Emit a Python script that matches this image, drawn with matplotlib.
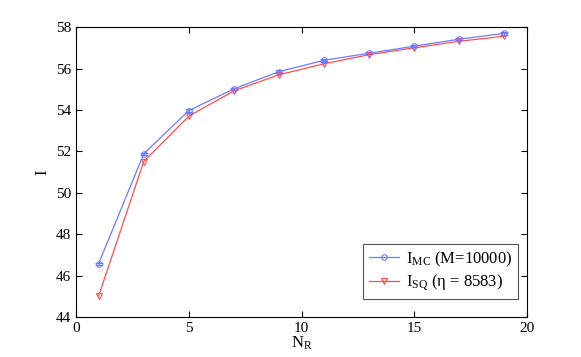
import numpy as np
import matplotlib
matplotlib.use('Agg')
import matplotlib.pyplot as plt
from matplotlib.lines import Line2D

plt.rcParams['font.family'] = ['Liberation Serif', 'DejaVu Serif']
plt.rcParams['mathtext.fontset'] = 'stix'

n_r = [1, 3, 5, 7, 9, 11, 13, 15, 17, 19]
i_mc = [46.58, 51.88, 53.97, 55.02, 55.85, 56.40, 56.74, 57.08, 57.42, 57.70]
i_mc_err = [0.05, 0.06, 0.06, 0.06, 0.06, 0.06, 0.06, 0.06, 0.06, 0.06]
i_sq = [45.02, 51.51, 53.70, 54.92, 55.70, 56.23, 56.67, 57.00, 57.32, 57.56]

blue = '#6a7dff'
red = '#ff4d4d'

fig = plt.figure(figsize=(5.81, 3.57), dpi=100)
ax = fig.add_axes([0.131, 0.112, 0.776, 0.812])

ax.errorbar(n_r, i_mc, yerr=i_mc_err, color=blue, lw=0.9, marker='o',
            ms=4, mfc='none', mew=0.8, capsize=3, elinewidth=0.8)
ax.plot(n_r, i_sq, color=red, lw=0.9, marker='v', ms=4.5, mfc='none', mew=0.8)

ax.set_xlim(0, 20)
ax.set_ylim(44, 58)
ax.set_xticks([0, 5, 10, 15, 20])
ax.set_yticks(np.arange(44, 59, 2))
ax.tick_params(direction='in', top=True, right=True, labelsize=11, length=4)
for s in ax.spines.values():
    s.set_linewidth(0.8)
ax.set_xlabel(r'$\mathregular{N_R}$', fontsize=12, labelpad=0)
ax.set_ylabel('I', fontsize=12)

handles = [
    Line2D([], [], color=blue, lw=0.9, marker='o', ms=4, mfc='none', mew=0.8),
    Line2D([], [], color=red, lw=0.9, marker='v', ms=4.5, mfc='none', mew=0.8),
]
labels = [r'$\mathregular{I_{MC}}$ (M=10000)', r'$\mathregular{I_{SQ}}$ (η = 8583)']
leg = ax.legend(handles, labels, loc='lower right', bbox_to_anchor=(0.98, 0.062),
                borderaxespad=0, fontsize=12, fancybox=False, edgecolor='#555555',
                framealpha=1, handlelength=1.8, handletextpad=0.4,
                borderpad=0.35, labelspacing=0.25)
leg.get_frame().set_linewidth(0.8)

fig.savefig('out.png', dpi=100)
